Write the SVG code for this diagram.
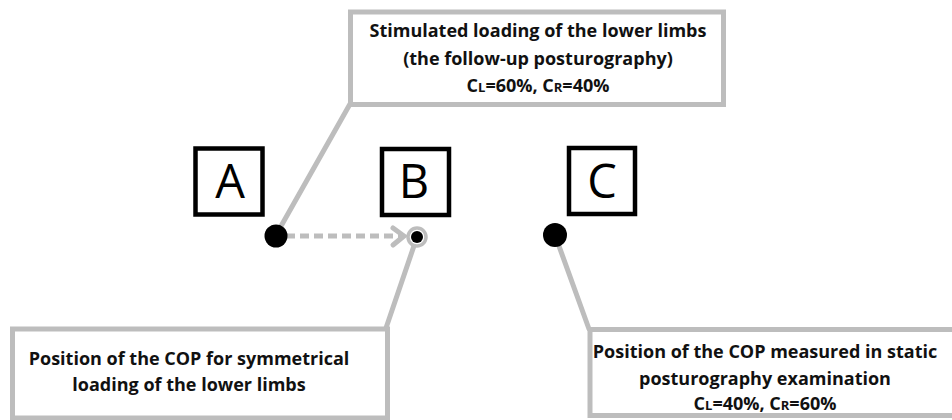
<svg xmlns="http://www.w3.org/2000/svg" width="952" height="420" viewBox="0 0 952 420">
  <style>
    .box { fill: #ffffff; stroke: #bdbdbd; stroke-width: 5; }
    .lbl { fill: #ffffff; stroke: #000000; stroke-width: 4.5; }
    .letter { font-family: "Open Sans", "DejaVu Sans", sans-serif; font-size: 47px; fill: #000; text-anchor: middle; }
    .t { font-family: "Open Sans", "Liberation Sans", sans-serif; font-weight: bold; font-size: 18px; fill: #111; text-anchor: middle; }
    .sub { font-size: 13px; }
    .conn { stroke: #bdbdbd; stroke-width: 5; fill: none; stroke-linecap: round; }
    .dash { stroke: #bdbdbd; stroke-width: 5; fill: none; stroke-dasharray: 9 5; }
  </style>
  <rect width="952" height="420" fill="#ffffff"/>

  <g id="connectors">
    <line class="conn" x1="350" y1="104" x2="276" y2="235"/>
    <line class="conn" x1="417" y1="237" x2="386" y2="328"/>
    <line class="conn" x1="555" y1="235" x2="589" y2="329"/>
    <line class="dash" x1="286" y1="236" x2="402" y2="236"/>
    <polyline class="conn" points="393,228 404,236 393,245"/>
  </g>

  <g id="box-top">
    <rect class="box" x="350.5" y="12" width="373" height="92.5"/>
    <text class="t" x="538" y="37">Stimulated loading of the lower limbs</text>
    <text class="t" x="538" y="65">(the follow-up posturography)</text>
    <text class="t" x="538" y="92">C<tspan class="sub">L</tspan>=60%, C<tspan class="sub">R</tspan>=40%</text>
  </g>

  <g id="box-bottom-left">
    <rect class="box" x="12.5" y="329" width="375" height="89"/>
    <text class="t" x="189" y="365">Position of the COP for symmetrical</text>
    <text class="t" x="189" y="391">loading of the lower limbs</text>
  </g>

  <g id="box-bottom-right">
    <rect class="box" x="590" y="329.5" width="372" height="86"/>
    <text class="t" x="765" y="358">Position of the COP measured in static</text>
    <text class="t" x="765" y="385">posturography examination</text>
    <text class="t" x="765" y="410">C<tspan class="sub">L</tspan>=40%, C<tspan class="sub">R</tspan>=60%</text>
  </g>

  <g id="label-A">
    <rect class="lbl" x="195.5" y="148.5" width="67" height="66"/>
    <text class="letter" x="230" y="198">A</text>
  </g>
  <g id="label-B">
    <rect class="lbl" x="382" y="149" width="67" height="66"/>
    <text class="letter" x="414" y="198">B</text>
  </g>
  <g id="label-C">
    <rect class="lbl" x="569" y="148" width="66" height="66"/>
    <text class="letter" x="602" y="198">C</text>
  </g>

  <g id="point-A">
    <circle cx="276" cy="236" r="11.5" fill="#000"/>
  </g>
  <g id="point-B">
    <circle cx="417" cy="237" r="9" fill="#fff" stroke="#bdbdbd" stroke-width="3.5"/>
    <circle cx="417" cy="237" r="6" fill="#000"/>
  </g>
  <g id="point-C">
    <circle cx="555" cy="235" r="12" fill="#000"/>
  </g>
</svg>
